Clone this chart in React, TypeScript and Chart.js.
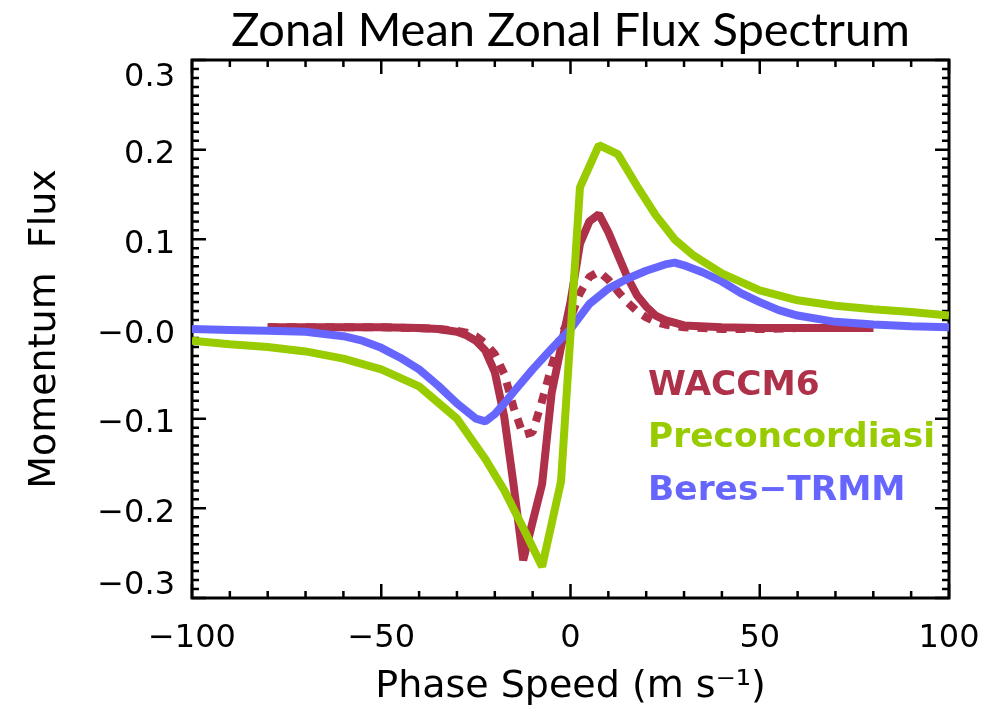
import React, { useEffect, useRef } from 'react';
import { Chart, registerables } from 'chart.js';

Chart.register(...registerables);

// ---- Data ----
const waccmSpeeds = [-80, -70, -60, -50, -40, -35, -30, -27.5, -25, -22.5, -20, -17.5, -15, -12.5, -10, -7.5, -5, -2.5, 0, 2.5, 5, 7.5, 10, 12.5, 15, 17.5, 20, 22.5, 25, 30, 40, 50, 60, 70, 80];
const waccmFlux = [0.002, 0.002, 0.002, 0.002, 0.001, 0.0, -0.003, -0.007, -0.013, -0.024, -0.048, -0.098, -0.175, -0.258, -0.215, -0.173, -0.072, -0.02, 0.03, 0.095, 0.12, 0.128, 0.108, 0.083, 0.058, 0.038, 0.025, 0.015, 0.01, 0.004, 0.002, 0.001, 0.001, 0.001, 0.001];

const waccmAltSpeeds = [-80, -70, -60, -50, -40, -35, -30, -27.5, -25, -22.5, -20, -17.5, -15, -12.5, -10, -7.5, -5, -2.5, 0, 2.5, 5, 7.5, 10, 12.5, 15, 17.5, 20, 22.5, 25, 30, 40, 50, 60, 70, 80];
const waccmAltFlux = [0.002, 0.002, 0.002, 0.002, 0.001, 0.0, -0.002, -0.004, -0.008, -0.016, -0.028, -0.05, -0.088, -0.118, -0.115, -0.08, -0.042, -0.006, 0.012, 0.04, 0.058, 0.064, 0.055, 0.042, 0.03, 0.02, 0.013, 0.008, 0.005, 0.002, 0.0, 0.0, 0.001, 0.001, 0.001];

const preconSpeeds = [-100, -90, -80, -70, -60, -50, -40, -30, -22.5, -17.5, -12.5, -7.5, -2.5, 2.5, 7.5, 12.5, 17.5, 22.5, 27.5, 32.5, 40, 50, 60, 70, 80, 90, 100];
const preconFlux = [-0.013, -0.017, -0.02, -0.025, -0.033, -0.045, -0.064, -0.1, -0.145, -0.18, -0.222, -0.265, -0.17, 0.158, 0.205, 0.195, 0.16, 0.127, 0.1, 0.082, 0.062, 0.043, 0.032, 0.026, 0.022, 0.019, 0.015];

const beresSpeeds = [-100, -90, -80, -70, -60, -55, -50, -45, -40, -35, -30, -25, -22.5, -20, -17.5, -15, -10, -5, 0, 5, 10, 15, 20, 25, 27.5, 30, 35, 40, 45, 50, 55, 60, 70, 80, 90, 100];
const beresFlux = [0.0, -0.001, -0.002, -0.003, -0.008, -0.013, -0.021, -0.032, -0.045, -0.063, -0.083, -0.1, -0.103, -0.095, -0.083, -0.07, -0.045, -0.022, 0.0, 0.028, 0.045, 0.056, 0.065, 0.072, 0.074, 0.071, 0.063, 0.053, 0.04, 0.03, 0.021, 0.015, 0.008, 0.005, 0.003, 0.002];

const seriesNames = ['WACCM6', 'Preconcordiasi', 'Beres\u2212TRMM'];

const xTickValues = [-100, -50, 0, 50, 100];
const xTickLabels = ['\u2212100', '\u221250', '0', '50', '100'];
const yTickValues = [-0.3, -0.2, -0.1, 0, 0.1, 0.2, 0.3];
const yTickLabels = ['\u22120.3', '\u22120.2', '\u22120.1', '\u22120.0', '0.1', '0.2', '0.3'];

const chartTitle = 'Zonal Mean Zonal Flux Spectrum';
const xTitle = 'Phase Speed (m s\u207B\u00B9)';
const yTitle = 'Momentum  Flux';

// ---- Styles ----
const RED = '#AE3049';
const GREEN = '#99CC00';
const BLUE = '#6666FF';
const AXIS_FONT = 'DejaVu Sans';

const pts = (xs: number[], ys: number[]) => xs.map((x, i) => ({ x, y: ys[i] }));
const findLabel = (vals: number[], labels: string[], v: number) => {
  const i = vals.findIndex((t) => Math.abs(t - v) < 1e-6);
  return i >= 0 ? labels[i] : '';
};

const framePlugin = {
  id: 'idlFrame',
  beforeDatasetsDraw(chart: any) {
    const { ctx, chartArea: a, scales } = chart;
    const xs = scales.x;
    const ys = scales.y;
    ctx.save();
    ctx.strokeStyle = '#000';
    ctx.lineWidth = 2.5;
    ctx.beginPath();
    for (let i = -10; i <= 10; i++) {
      const px = xs.getPixelForValue(i * 10);
      const len = i % 5 === 0 ? 14 : 7;
      ctx.moveTo(px, a.bottom);
      ctx.lineTo(px, a.bottom - len);
      ctx.moveTo(px, a.top);
      ctx.lineTo(px, a.top + len);
    }
    for (let j = -30; j <= 30; j++) {
      const py = ys.getPixelForValue(j / 100);
      const len = j % 10 === 0 ? 14 : 7;
      ctx.moveTo(a.left, py);
      ctx.lineTo(a.left + len, py);
      ctx.moveTo(a.right, py);
      ctx.lineTo(a.right - len, py);
    }
    ctx.stroke();
    ctx.lineWidth = 3;
    ctx.strokeRect(a.left, a.top, a.right - a.left, a.bottom - a.top);
    ctx.restore();
  },
};

const labelPlugin = {
  id: 'seriesLabels',
  afterDatasetsDraw(chart: any) {
    const { ctx, scales } = chart;
    const xs = scales.x;
    const ys = scales.y;
    const colors = [RED, GREEN, BLUE];
    const anchorsY = [-0.064, -0.122, -0.181];
    ctx.save();
    ctx.font = `bold 30px "${AXIS_FONT}"`;
    const w = ctx.measureText(seriesNames[1]).width;
    const size = (30 * 287) / w;
    ctx.font = `bold ${size.toFixed(1)}px "${AXIS_FONT}"`;
    ctx.textAlign = 'left';
    ctx.textBaseline = 'middle';
    seriesNames.forEach((name, i) => {
      ctx.fillStyle = colors[i];
      ctx.fillText(name, xs.getPixelForValue(20.5), ys.getPixelForValue(anchorsY[i]));
    });
    ctx.restore();
  },
};

export default function App() {
  const canvasRef = useRef<HTMLCanvasElement | null>(null);

  useEffect(() => {
    if (!canvasRef.current) return;
    const common = { borderWidth: 8, pointRadius: 0, tension: 0, fill: false, borderJoinStyle: 'bevel' };
    const chart = new Chart(canvasRef.current, {
      type: 'line',
      data: {
        datasets: [
          { ...common, label: seriesNames[1], data: pts(preconSpeeds, preconFlux), borderColor: GREEN, order: 0 },
          { ...common, label: seriesNames[2], data: pts(beresSpeeds, beresFlux), borderColor: BLUE, order: 1 },
          { ...common, label: seriesNames[0] + ' (dashed)', data: pts(waccmAltSpeeds, waccmAltFlux), borderColor: RED, borderDash: [10, 9], order: 2 },
          { ...common, label: seriesNames[0], data: pts(waccmSpeeds, waccmFlux), borderColor: RED, order: 3 },
        ],
      } as any,
      options: {
        animation: false,
        responsive: true,
        maintainAspectRatio: false,
        layout: { padding: { left: 0, right: 54, top: 0, bottom: 0 } },
        plugins: {
          legend: { display: false },
          tooltip: { enabled: false },
          title: {
            display: true,
            text: chartTitle,
            fullSize: false,
            color: '#000',
            font: { family: 'Lato', size: 47, weight: 'normal', lineHeight: 1.1 },
            padding: { top: 5, bottom: 3.3 },
          },
        },
        scales: {
          x: {
            type: 'linear',
            min: -100,
            max: 100,
            grid: { display: false, drawTicks: false },
            border: { display: false },
            ticks: {
              stepSize: 50,
              color: '#000',
              padding: 21,
              maxRotation: 0,
              font: { family: AXIS_FONT, size: 32 },
              callback: (v: any) => findLabel(xTickValues, xTickLabels, Number(v)),
            },
            title: {
              display: true,
              text: xTitle,
              color: '#000',
              font: { family: AXIS_FONT, size: 38, lineHeight: 1.2 },
              padding: { top: 0, bottom: 2 },
            },
            afterFit: (s: any) => { s.height = 114; },
          },
          y: {
            type: 'linear',
            min: -0.3,
            max: 0.3,
            grid: { display: false, drawTicks: false },
            border: { display: false },
            ticks: {
              stepSize: 0.1,
              color: '#000',
              padding: 17,
              font: (c: any) => {
                const v = c.tick ? c.tick.value : 0;
                let lh = '11px';
                if (v > 0.25) lh = '36px';
                else if (v < -0.25) lh = '24px';
                return { family: AXIS_FONT, size: 32, lineHeight: lh };
              },
              callback: (v: any) => {
                const n = Number(v);
                const lbl = findLabel(yTickValues, yTickLabels, n);
                return n < -0.25 ? [lbl, ''] : ['', lbl];
              },
            },
            title: {
              display: true,
              text: yTitle,
              color: '#000',
              font: { family: AXIS_FONT, size: 38, lineHeight: 1.2 },
              padding: { top: 22, bottom: 0 },
            },
            afterFit: (s: any) => { s.width = 192; },
          },
        },
      } as any,
      plugins: [framePlugin, labelPlugin],
    });
    return () => chart.destroy();
  }, []);

  return (
    <div style={{ position: 'fixed', left: 0, top: 0, width: 1003, height: 712, background: '#fff' }}>
      <canvas ref={canvasRef} />
    </div>
  );
}
